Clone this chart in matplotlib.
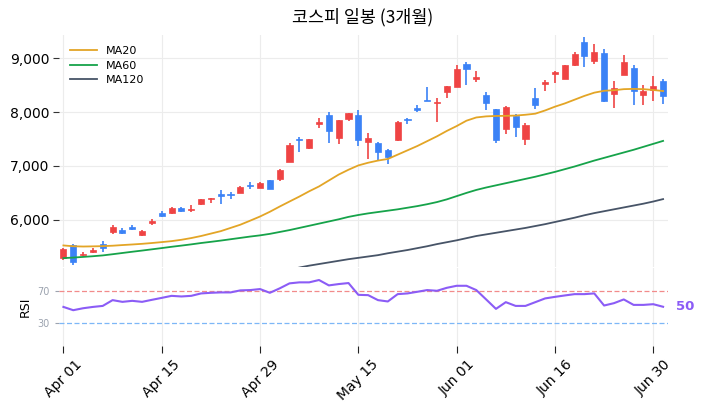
import matplotlib
matplotlib.use("Agg")
import matplotlib.pyplot as plt
from matplotlib.ticker import FuncFormatter
import numpy as np

# ---------------- data ----------------
tick_labels = ["Apr 01", "Apr 15", "Apr 29", "May 15", "Jun 01", "Jun 16", "Jun 30"]
tick_index = [0, 10, 20, 30, 40, 50, 60]

opens = [5300, 5537, 5355, 5395, 5560, 5775, 5815, 5875, 5710, 5935,
         6130, 6130, 6215, 6185, 6285, 6378, 6475, 6475, 6505, 6645,
         6600, 6740, 6765, 7080, 7500, 7340, 7770, 7950, 7520, 7870,
         7950, 7440, 7420, 7295, 7475, 7875, 8072, 8233, 8160, 8375,
         8470, 8890, 8605, 8315, 8055, 7695, 7920, 7495, 8260, 8520,
         8700, 8620, 8875, 9295, 8950, 9090, 8340, 8690, 8815, 8320,
         8415, 8585]
highs = [5480, 5555, 5400, 5480, 5600, 5905, 5845, 5910, 5810, 6015,
         6165, 6235, 6235, 6275, 6395, 6410, 6555, 6520, 6620, 6700,
         6700, 6745, 6940, 7420, 7545, 7505, 7890, 8000, 7860, 7985,
         8040, 7620, 7445, 7310, 7830, 7895, 8135, 8470, 8265, 8490,
         8870, 8930, 8760, 8375, 8065, 8115, 7970, 7790, 8445, 8595,
         8765, 8870, 9110, 9385, 9260, 9170, 8570, 9050, 8865, 8505,
         8660, 8615]
lows = [5260, 5160, 5320, 5385, 5400, 5740, 5730, 5815, 5700, 5910,
        6045, 6100, 6140, 6150, 6275, 6310, 6300, 6385, 6495, 6580,
        6590, 6575, 6730, 7065, 7255, 7310, 7705, 7425, 7405, 7835,
        7365, 7130, 7110, 7040, 7470, 7785, 7995, 8200, 7820, 8270,
        8460, 8500, 8560, 8040, 7435, 7595, 7540, 7390, 8060, 8400,
        8540, 8610, 8860, 8830, 8900, 8185, 8075, 8685, 8125, 8125,
        8210, 8150]
closes = [5465, 5210, 5375, 5445, 5470, 5875, 5760, 5835, 5795, 5970,
          6065, 6215, 6170, 6205, 6385, 6405, 6450, 6452, 6605, 6625,
          6680, 6580, 6925, 7390, 7478, 7495, 7820, 7640, 7855, 7980,
          7475, 7515, 7250, 7170, 7820, 7848, 8045, 8205, 8190, 8480,
          8795, 8792, 8655, 8160, 7475, 8090, 7720, 7760, 8125, 8555,
          8735, 8865, 9075, 9045, 9110, 8200, 8455, 8925, 8395, 8385,
          8475, 8290]

ma20 = [5525, 5510, 5505, 5508, 5512, 5520, 5532, 5543, 5555, 5570,
        5587, 5605, 5630, 5662, 5700, 5745, 5790, 5850, 5910, 5985,
        6062, 6150, 6247, 6340, 6432, 6530, 6620, 6730, 6840, 6930,
        7010, 7060, 7100, 7130, 7210, 7290, 7370, 7460, 7550, 7650,
        7740, 7840, 7900, 7920, 7928, 7930, 7935, 7950, 7970, 8030,
        8100, 8160, 8230, 8300, 8360, 8395, 8405, 8425, 8430, 8425,
        8410, 8390]
ma60 = [5290, 5300, 5312, 5325, 5340, 5362, 5385, 5408, 5430, 5453,
        5476, 5500, 5522, 5545, 5570, 5592, 5615, 5640, 5665, 5690,
        5712, 5740, 5775, 5810, 5850, 5890, 5930, 5970, 6010, 6055,
        6090, 6120, 6145, 6170, 6195, 6225, 6255, 6290, 6330, 6380,
        6440, 6500, 6555, 6600, 6640, 6680, 6720, 6760, 6800, 6845,
        6890, 6940, 6990, 7045, 7100, 7150, 7200, 7250, 7300, 7355,
        7410, 7465]
ma120 = [None, None, None, None, None, None, None, None, None, None,
         None, None, None, None, None, None, None, None, None, None,
         None, None, None, 5070, 5115, 5150, 5180, 5210, 5240, 5270,
         5295, 5320, 5345, 5380, 5410, 5440, 5475, 5510, 5550, 5585,
         5620, 5660, 5700, 5730, 5760, 5790, 5820, 5850, 5885, 5920,
         5960, 6000, 6040, 6085, 6125, 6160, 6195, 6230, 6265, 6300,
         6340, 6385]
rsi = [50.1, 45.9, 48.4, 50.1, 51.4, 58.8, 56.6, 57.9, 56.6, 59.2,
       61.7, 64.3, 63.5, 64.3, 67.4, 68.2, 68.7, 68.7, 71.3, 71.7,
       73.0, 68.2, 73.9, 80.3, 81.6, 81.6, 84.6, 77.7, 79.4, 80.7,
       65.6, 65.2, 58.8, 57.1, 66.5, 67.4, 69.5, 71.7, 70.8, 74.6,
       77.2, 77.2, 71.7, 59.7, 47.6, 56.2, 51.4, 51.4, 56.2, 61.0,
       63.0, 64.8, 66.5, 66.5, 67.4, 51.9, 54.9, 59.7, 52.7, 52.7,
       53.6, 50.3]

# ---------------- style ----------------
UP = "#ef4444"
DOWN = "#3b82f6"
GRID = "#ececec"

fig = plt.figure(figsize=(7.01, 4.11), dpi=100)
W, H = 701, 411
ax = fig.add_axes([59 / W, (H - 267) / H, 609 / W, 232 / H])
ax2 = fig.add_axes([59 / W, (H - 346) / H, 609 / W, 78 / H], sharex=ax)

x = np.arange(len(opens))
o = np.array(opens, float)
c = np.array(closes, float)
hi = np.array(highs, float)
lo = np.array(lows, float)
colors = [UP if cc >= oo else DOWN for oo, cc in zip(o, c)]

ax.vlines(x, lo, hi, colors=colors, linewidth=1.2, zorder=3)
ax.bar(x, np.maximum(np.abs(c - o), 15), bottom=np.minimum(o, c), width=0.62,
       color=colors, edgecolor=colors, linewidth=0.5, zorder=4)

ma120_arr = np.array([np.nan if v is None else v for v in ma120], float)
ax.plot(x, ma20, color="#e3a526", lw=1.3, label="MA20", zorder=5)
ax.plot(x, ma60, color="#16a34a", lw=1.3, label="MA60", zorder=5)
ax.plot(x, ma120_arr, color="#475467", lw=1.3, label="MA120", zorder=5)

ax.set_ylim(5125, 9430)
ax.set_xlim(-0.45, 61.5)
ax.set_yticks([6000, 7000, 8000, 9000])
ax.yaxis.set_major_formatter(FuncFormatter(lambda v, p: f"{v:,.0f}"))
ax.tick_params(axis="y", labelsize=10, length=4, color="#333333", pad=3)
ax.tick_params(axis="x", bottom=False, labelbottom=False)
ax.grid(True, color=GRID, lw=0.8, zorder=0)
ax.set_axisbelow(True)
for s in ax.spines.values():
    s.set_visible(False)

leg = ax.legend(loc="upper left", fontsize=8, frameon=False, handlelength=2.4,
                borderaxespad=0.6, labelspacing=0.4)

# RSI panel
ax2.plot(x, rsi, color="#8b5cf6", lw=1.5, zorder=4)
ax2.axhline(70, color="#f28b8b", lw=0.9, ls=(0, (4, 2)), zorder=2)
ax2.axhline(30, color="#7db7f7", lw=0.9, ls=(0, (4, 2)), zorder=2)
ax2.set_ylim(0, 100)
ax2.set_yticks([30, 70])
ax2.tick_params(axis="y", labelsize=7, labelcolor="#9ca3af", color="#9ca3af", length=3)
ax2.set_ylabel("RSI", fontsize=9, labelpad=4)
ax2.set_xticks(tick_index)
ax2.set_xticklabels(tick_labels, rotation=45, fontsize=10)
ax2.tick_params(axis="x", length=5, color="#222222", pad=3)
ax2.grid(True, axis="x", color=GRID, lw=0.8, zorder=0)
ax2.set_axisbelow(True)
for s in ax2.spines.values():
    s.set_visible(False)

ax2.annotate(f"{rsi[-1]:.0f}", xy=(x[-1], rsi[-1]), xytext=(9, 0),
             textcoords="offset points", ha="left", va="center",
             color="#8b5cf6", fontsize=9.5, fontweight="bold", annotation_clip=False)

fig.text(363 / W, 1 - 17 / H, "코스피 일봉 (3개월)", ha="center", va="center",
         fontsize=12.5, family=["Noto Sans CJK KR", "DejaVu Sans"])

fig.savefig("out.png", dpi=100)
